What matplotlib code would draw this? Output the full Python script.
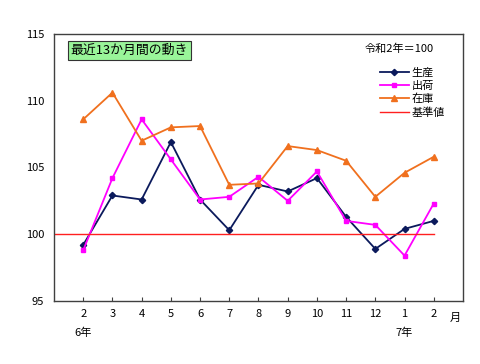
import matplotlib
matplotlib.use("Agg")
import matplotlib.pyplot as plt

plt.rcParams['font.family'] = ['Noto Sans CJK JP', 'DejaVu Sans']

months = ["2", "3", "4", "5", "6", "7", "8", "9", "10", "11", "12", "1", "2"]
production = [99.2, 102.9, 102.6, 106.9, 102.6, 100.3, 103.7, 103.2, 104.2, 101.3, 98.9, 100.4, 101.0]
shipments = [98.8, 104.2, 108.6, 105.6, 102.6, 102.8, 104.3, 102.5, 104.7, 101.0, 100.7, 98.4, 102.3]
inventory = [108.6, 110.6, 107.0, 108.0, 108.1, 103.7, 103.8, 106.6, 106.3, 105.5, 102.8, 104.6, 105.8]
base_value = 100
yticks = [95, 100, 105, 110, 115]
series_names = ["生産", "出荷", "在庫", "基準値"]

fig = plt.figure(figsize=(4.8, 3.64), dpi=100)
ax = fig.add_axes([0.1125, 0.173, 0.852, 0.734])

x = list(range(1, len(months) + 1))
ax.plot(x, production, color='#0B1A5C', lw=1.3, marker='D', ms=3.2, label=series_names[0])
ax.plot(x, shipments, color='#FF00FF', lw=1.3, marker='s', ms=3.5, label=series_names[1])
ax.plot(x, inventory, color='#F0701E', lw=1.3, marker='^', ms=4.5, label=series_names[2])
ax.plot([0, len(months)], [base_value, base_value], color='#FF2020', lw=1.0, label=series_names[3])

ax.set_xlim(0, len(months) + 1)
ax.set_ylim(95, 115)
ax.set_yticks(yticks)
ax.set_xticks(x)
ax.set_xticklabels(months, fontsize=8)
ax.tick_params(axis='y', length=0, pad=7, labelsize=8)
ax.tick_params(axis='x', direction='in', length=3, pad=6, color='#404040')
for s in ax.spines.values():
    s.set_color('#404040')
    s.set_linewidth(1.0)

ax.text(0.04, 0.963, "最近13か月間の動き", transform=ax.transAxes, fontsize=9.3,
        ha='left', va='top',
        bbox=dict(boxstyle='square,pad=0.22', facecolor='#99F599', edgecolor='#333333', lw=0.8))
ax.text(0.928, 0.965, "令和2年＝100", transform=ax.transAxes, fontsize=8, ha='right', va='top')

leg = ax.legend(loc='upper left', bbox_to_anchor=(0.797, 0.875), frameon=False, fontsize=8,
                handlelength=2.6, handletextpad=0.25, labelspacing=0.27, borderaxespad=0,
                borderpad=0)

ax.text(len(months) + 0.75, 94.1, "月", fontsize=8, ha='center', va='top', clip_on=False)
ax.text(1, 92.6, "6年", fontsize=8, ha='center', va='center', clip_on=False)
ax.text(12, 92.6, "7年", fontsize=8, ha='center', va='center', clip_on=False)

fig.savefig("out.png", dpi=100)
